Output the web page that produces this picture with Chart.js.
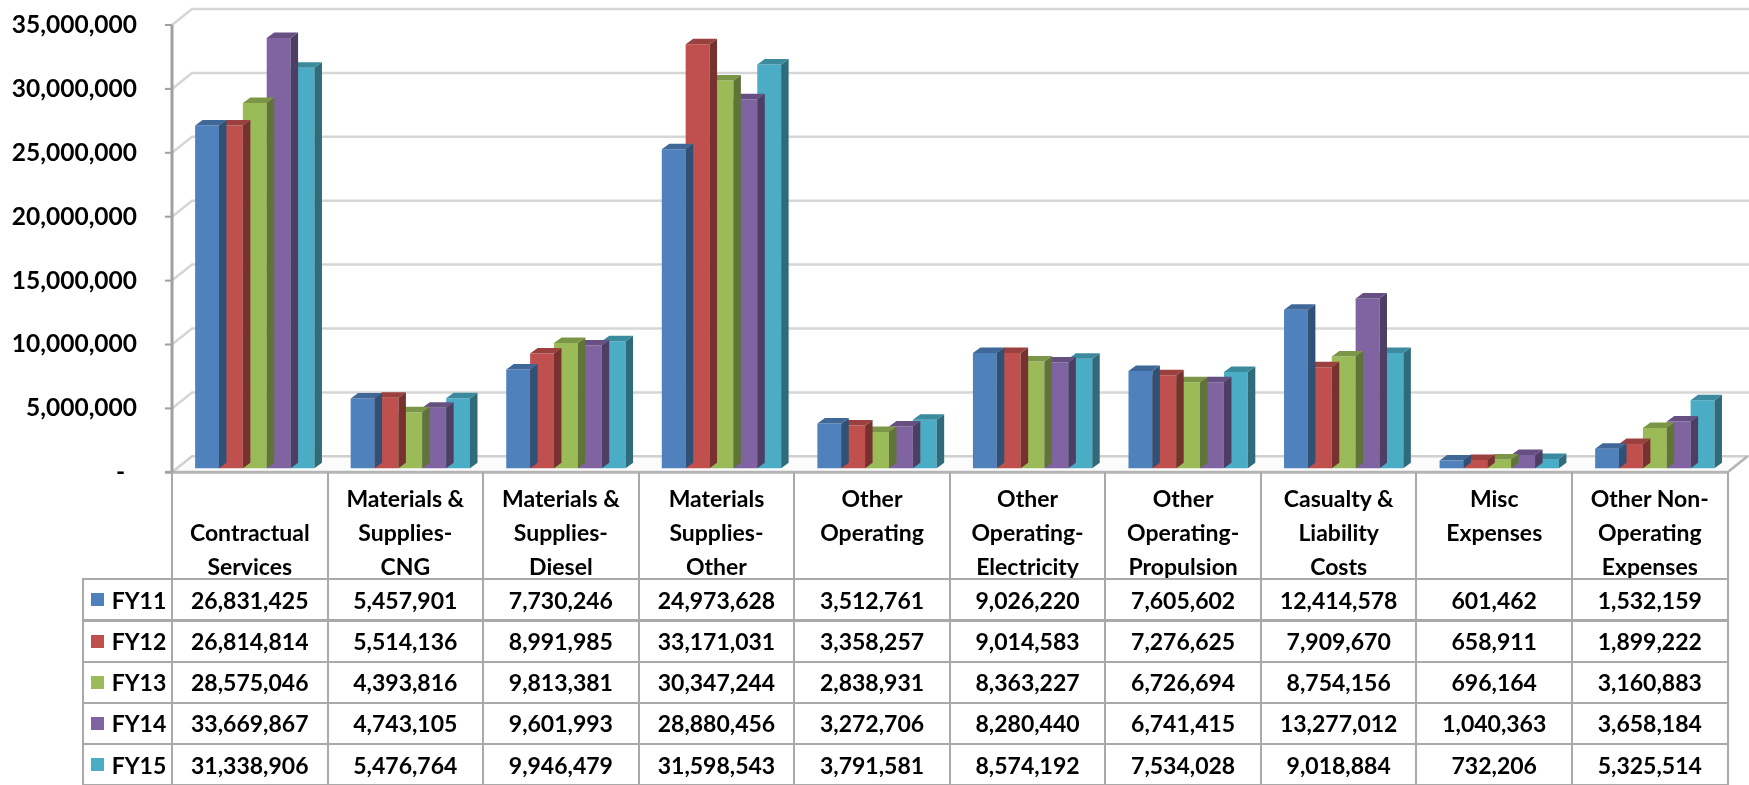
<!DOCTYPE html>
<html>
<head>
<meta charset="utf-8">
<title>Operating Expenses FY11-FY15</title>
<script src="https://cdn.jsdelivr.net/npm/chart.js@4.4.1/dist/chart.umd.min.js"></script>
<style>
  html, body { margin: 0; padding: 0; background: #fff; }
  #wrap { position: relative; width: 1749px; height: 785px; overflow: hidden; }
  #c { position: absolute; left: 0; top: 0; }
  .cell {
    position: absolute; box-sizing: border-box;
    border: 2px solid #a9a9a9;
    font-family: Lato, "Open Sans", sans-serif; font-weight: 700; font-size: 23px; color: #000;
    display: flex; align-items: center; justify-content: center; white-space: nowrap;
  }
  .head { border-top: none; border-bottom: none; display: block; text-align: center; line-height: 34px; }
  .leg { justify-content: flex-start; padding-left: 7px; }
  .sw { width: 13px; height: 13px; margin-right: 8px; flex: none; }
</style>
</head>
<body>
<div id="wrap">
  <canvas id="c" width="1749" height="785"></canvas>
  <div id="tbl"></div>
</div>
<script>
// Expense categories (header lines as printed in the data table)
const categoryLines = [
  ['', 'Contractual', 'Services'],
  ['Materials &', 'Supplies-', 'CNG'],
  ['Materials &', 'Supplies-', 'Diesel'],
  ['Materials', 'Supplies-', 'Other'],
  ['Other', 'Operating'],
  ['Other', 'Operating-', 'Electricity'],
  ['Other', 'Operating-', 'Propulsion'],
  ['Casualty &', 'Liability', 'Costs'],
  ['Misc', 'Expenses'],
  ['Other Non-', 'Operating', 'Expenses']
];
const categories = categoryLines.map(l => l.filter(Boolean).join(' '));

// Fiscal years
const seriesNames = ['FY11', 'FY12', 'FY13', 'FY14', 'FY15'];
const fy11 = [26831425, 5457901, 7730246, 24973628, 3512761, 9026220, 7605602, 12414578, 601462, 1532159];
const fy12 = [26814814, 5514136, 8991985, 33171031, 3358257, 9014583, 7276625, 7909670, 658911, 1899222];
const fy13 = [28575046, 4393816, 9813381, 30347244, 2838931, 8363227, 6726694, 8754156, 696164, 3160883];
const fy14 = [33669867, 4743105, 9601993, 28880456, 3272706, 8280440, 6741415, 13277012, 1040363, 3658184];
const fy15 = [31338906, 5476764, 9946479, 31598543, 3791581, 8574192, 7534028, 9018884, 732206, 5325514];
const seriesValues = [fy11, fy12, fy13, fy14, fy15];
const seriesColors = ['#4F81BD', '#C0504D', '#9BBB59', '#8064A2', '#4BACC6'];

// Value axis
const yMin = 0, yMax = 35000000, yStep = 5000000;

const fmt = v => v.toLocaleString('en-US');

function shade(hex, f) {
  const n = parseInt(hex.slice(1), 16);
  const r = Math.round(((n >> 16) & 255) * f);
  const g = Math.round(((n >> 8) & 255) * f);
  const b = Math.round((n & 255) * f);
  return `rgb(${r},${g},${b})`;
}

// target plot box
const PLOT = { left: 172, top: 25, right: 1727.6, bottom: 472.3 };

// depth of the walls / floor, placement of the bar row and bar thickness
const WALL_DX = 20, WALL_DY = -16;
const ROW_DX = 5, ROW_DY = -4;
const BAR_DX = 7.5, BAR_DY = -5.5;

const box3d = {
  id: 'box3d',
  beforeDatasetsDraw(chart) {
    const { ctx, chartArea: a, scales: { y } } = chart;
    ctx.save();
    ctx.lineCap = 'butt';
    // back wall and side wall grid lines
    ctx.strokeStyle = '#d6d6d6';
    ctx.lineWidth = 2.5;
    y.ticks.forEach(t => {
      if (t.value === yMin) return;
      const py = y.getPixelForValue(t.value);
      ctx.beginPath();
      ctx.moveTo(a.left, py);
      ctx.lineTo(a.left + WALL_DX, py + WALL_DY);
      ctx.lineTo(chart.width, py + WALL_DY);
      ctx.stroke();
    });
    // floor
    const fy = y.getPixelForValue(yMin);
    ctx.fillStyle = '#fbfbfb';
    ctx.beginPath();
    ctx.moveTo(a.left, fy);
    ctx.lineTo(a.right, fy);
    ctx.lineTo(a.right + WALL_DX, fy + WALL_DY);
    ctx.lineTo(a.left + WALL_DX, fy + WALL_DY);
    ctx.closePath();
    ctx.fill();
    ctx.strokeStyle = '#d0d0d0';
    ctx.lineWidth = 2.5;
    ctx.beginPath();
    ctx.moveTo(a.left, fy);
    ctx.lineTo(a.left + WALL_DX, fy + WALL_DY);
    ctx.lineTo(chart.width, fy + WALL_DY);
    ctx.stroke();
    ctx.strokeStyle = '#b4b4b4';
    ctx.beginPath();
    ctx.moveTo(a.right, fy);
    ctx.lineTo(a.right + WALL_DX, fy + WALL_DY);
    ctx.stroke();
    ctx.lineWidth = 3;
    ctx.beginPath();
    ctx.moveTo(a.left - 7, fy);
    ctx.lineTo(a.right, fy);
    ctx.stroke();
    // value axis line and its tick marks
    ctx.strokeStyle = '#a0a0a0';
    ctx.lineWidth = 3;
    ctx.beginPath();
    ctx.moveTo(a.left, a.top);
    ctx.lineTo(a.left, fy + 1);
    ctx.stroke();
    ctx.lineWidth = 2;
    y.ticks.forEach(t => {
      const py = y.getPixelForValue(t.value);
      ctx.beginPath();
      ctx.moveTo(a.left - 7, py);
      ctx.lineTo(a.left, py);
      ctx.stroke();
    });
    ctx.restore();
  },
  beforeDatasetDraw(chart) {
    chart.ctx.save();
    chart.ctx.translate(ROW_DX, ROW_DY);
  },
  afterDatasetDraw(chart, args) {
    const ctx = chart.ctx;
    const color = seriesColors[args.index];
    args.meta.data.forEach(bar => {
      const { x, y, base, width } = bar.getProps(['x', 'y', 'base', 'width'], true);
      const l = x - width / 2, r = x + width / 2;
      // side face
      ctx.fillStyle = shade(color, 0.62);
      ctx.beginPath();
      ctx.moveTo(r, y);
      ctx.lineTo(r + BAR_DX, y + BAR_DY);
      ctx.lineTo(r + BAR_DX, base + BAR_DY);
      ctx.lineTo(r, base);
      ctx.closePath();
      ctx.fill();
      // top face
      ctx.fillStyle = shade(color, 0.8);
      ctx.beginPath();
      ctx.moveTo(l, y);
      ctx.lineTo(l + BAR_DX, y + BAR_DY);
      ctx.lineTo(r + BAR_DX, y + BAR_DY);
      ctx.lineTo(r, y);
      ctx.closePath();
      ctx.fill();
    });
    ctx.restore();
  }
};

const chart = new Chart(document.getElementById('c'), {
  type: 'bar',
  data: {
    labels: categories,
    datasets: seriesNames.map((name, i) => ({
      label: name,
      data: seriesValues[i],
      backgroundColor: seriesColors[i],
      borderWidth: 0,
      categoryPercentage: 0.767,
      barPercentage: 1.0,
      clip: false
    }))
  },
  options: {
    responsive: false,
    animation: false,
    events: [],
    layout: { padding: { left: 0, top: PLOT.top, right: 1749 - PLOT.right, bottom: 785 - PLOT.bottom } },
    plugins: { legend: { display: false }, tooltip: { enabled: false } },
    scales: {
      x: { display: false, offset: true },
      y: {
        min: yMin, max: yMax,
        border: { display: false },
        grid: { display: false, drawTicks: false },
        afterFit: s => { s.width = PLOT.left; s.paddingTop = 0; s.paddingBottom = 0; },
        ticks: {
          stepSize: yStep,
          padding: 35,
          color: '#000',
          font: { family: 'Lato', weight: 'bold', size: 24.5 },
          callback: v => (v === 0 ? '-  ' : fmt(v))
        }
      }
    }
  },
  plugins: [box3d]
});

// pull the plot box onto its target edges
for (let k = 0; k < 2; k++) {
  const a = chart.chartArea, p = chart.options.layout.padding;
  const dt = PLOT.top - a.top, db = a.bottom - PLOT.bottom, dr = a.right - PLOT.right;
  if (Math.abs(dt) + Math.abs(db) + Math.abs(dr) < 0.05) break;
  p.top += dt;
  p.bottom += db;
  p.right += dr;
  chart.update();
}

// data table below the plot, aligned to the category slots
(function buildTable() {
  const a = chart.chartArea;
  const n = categories.length;
  const cw = (a.right - a.left) / n;
  const legLeft = 82.7;
  const headTop = a.bottom;
  const headH = 107;
  const rowH = 41.2;
  const tbl = document.getElementById('tbl');
  const add = (cls, left, top, w, h, text) => {
    const d = document.createElement('div');
    d.className = 'cell ' + cls;
    d.style.left = left + 'px';
    d.style.top = top + 'px';
    d.style.width = w + 'px';
    d.style.height = h + 'px';
    if (typeof text === 'string') d.textContent = text;
    tbl.appendChild(d);
    return d;
  };
  categoryLines.forEach((lines, i) => {
    const d = add('head', a.left + i * cw - 1, headTop, cw + 2, headH + 1);
    d.style.paddingTop = '8.7px';
    lines.forEach(t => {
      const s = document.createElement('div');
      s.textContent = t || '\u00a0';
      d.appendChild(s);
    });
  });
  const rowsTop = headTop + headH;
  seriesNames.forEach((name, r) => {
    const top = rowsTop + r * rowH - 1;
    const lc = add('leg', legLeft - 1, top, a.left - legLeft + 2, rowH + 2, null);
    const sw = document.createElement('span');
    sw.className = 'sw';
    sw.style.background = seriesColors[r];
    const tx = document.createElement('span');
    tx.textContent = name;
    lc.appendChild(sw);
    lc.appendChild(tx);
    seriesValues[r].forEach((v, i) => {
      add('', a.left + i * cw - 1, top, cw + 2, rowH + 2, fmt(v));
    });
  });
})();
</script>
</body>
</html>
